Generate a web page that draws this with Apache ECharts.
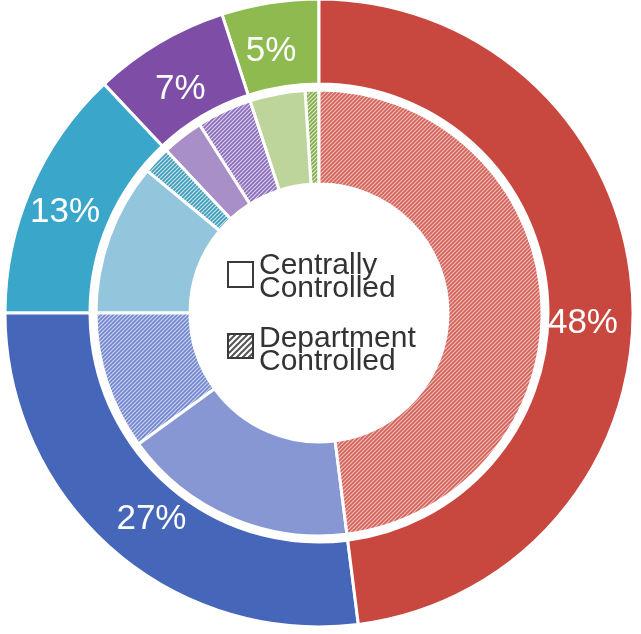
<!DOCTYPE html>
<html>
<head>
<meta charset="utf-8">
<title>Spending control</title>
<script src="https://cdn.jsdelivr.net/npm/echarts@6/dist/echarts.min.js"></script>
<style>
  html, body { margin: 0; padding: 0; background: #fff; }
  #chart { width: 641px; height: 634px; }
</style>
</head>
<body>
<div id="chart"></div>
<script>
// Share of total per group (outer ring), and its split (inner ring)
const groups = ['Group A', 'Group B', 'Group C', 'Group D', 'Group E'];
const groupShares = [5, 7, 13, 27, 48];
const centralShares = [4, 3, 11, 17, 0];
const departmentShares = [1, 4, 2, 10, 48];

// Palette
const outerColors = ['#8fba4f', '#7e4ea6', '#3aa6c9', '#4566b9', '#c8473f'];
const centralColors = ['#bdd49b', '#a88fc8', '#93c6dc', '#8797d4', '#e59a94'];
const hatchFg = ['#84ad4c', '#8a6cbb', '#3f9cb8', '#7186cf', '#d3625a'];
const hatchBg = ['#dde9c9', '#ddd3ee', '#cbe7f0', '#cfd7f2', '#efbfb9'];

// Small nudges for the percentage labels inside the outer ring
const labelNudge = [[-5, 9], [1, 13], [-2, 8], [14, 0], [-10, 28]];

// Diagonal "/" stripe pattern used as a fill
function stripes(bg, fg, size, lw) {
  const c = document.createElement('canvas');
  c.width = size; c.height = size;
  const g = c.getContext('2d');
  g.fillStyle = bg;
  g.fillRect(0, 0, size, size);
  g.strokeStyle = fg;
  g.lineWidth = lw;
  g.beginPath();
  g.moveTo(-1, size + 1); g.lineTo(size + 1, -1);
  g.moveTo(-1, 1); g.lineTo(1, -1);
  g.moveTo(size - 1, size + 1); g.lineTo(size + 1, size - 1);
  g.stroke();
  return { image: c, repeat: 'repeat' };
}

const outerData = groups.map((name, i) => ({
  name: name,
  value: groupShares[i],
  itemStyle: { color: outerColors[i] },
  label: { offset: labelNudge[i] }
}));

const innerData = [];
groups.forEach((name, i) => {
  if (departmentShares[i] > 0) {
    innerData.push({
      name: name + ' department',
      value: departmentShares[i],
      itemStyle: { color: stripes(hatchBg[i], hatchFg[i], 4, 1.7) }
    });
  }
  if (centralShares[i] > 0) {
    innerData.push({
      name: name + ' central',
      value: centralShares[i],
      itemStyle: { color: centralColors[i] }
    });
  }
});

const chart = echarts.init(document.getElementById('chart'), null, { renderer: 'canvas' });
const font = '"Liberation Sans", Arial, sans-serif';

chart.setOption({
  animation: false,
  backgroundColor: '#ffffff',
  series: [
    {
      type: 'pie',
      center: [319, 313],
      radius: [229, 314],
      startAngle: 90,
      clockwise: false,
      silent: true,
      avoidLabelOverlap: false,
      itemStyle: { borderColor: '#ffffff', borderWidth: 3 },
      label: {
        show: true,
        position: 'inside',
        formatter: '{c}%',
        color: '#ffffff',
        fontFamily: font,
        fontSize: 35
      },
      labelLine: { show: false },
      data: outerData
    },
    {
      type: 'pie',
      center: [319, 313],
      radius: [129, 223],
      startAngle: 90,
      clockwise: false,
      silent: true,
      itemStyle: { borderColor: '#ffffff', borderWidth: 3 },
      label: { show: false },
      labelLine: { show: false },
      data: innerData
    }
  ],
  graphic: [
    {
      type: 'rect',
      shape: { x: 228, y: 262, width: 25, height: 25 },
      style: { fill: '#ffffff', stroke: '#3a3a3a', lineWidth: 2 }
    },
    {
      type: 'rect',
      shape: { x: 228, y: 334, width: 25, height: 24 },
      style: { fill: stripes('#ffffff', '#555555', 6, 2), stroke: '#3a3a3a', lineWidth: 2 }
    },
    { type: 'text', style: { text: 'Centrally', x: 259, y: 266, font: '30px ' + font, fill: '#333333', textVerticalAlign: 'middle' } },
    { type: 'text', style: { text: 'Controlled', x: 259, y: 289, font: '30px ' + font, fill: '#333333', textVerticalAlign: 'middle' } },
    { type: 'text', style: { text: 'Department', x: 259, y: 339, font: '30px ' + font, fill: '#333333', textVerticalAlign: 'middle' } },
    { type: 'text', style: { text: 'Controlled', x: 259, y: 362, font: '30px ' + font, fill: '#333333', textVerticalAlign: 'middle' } }
  ]
});
</script>
</body>
</html>
